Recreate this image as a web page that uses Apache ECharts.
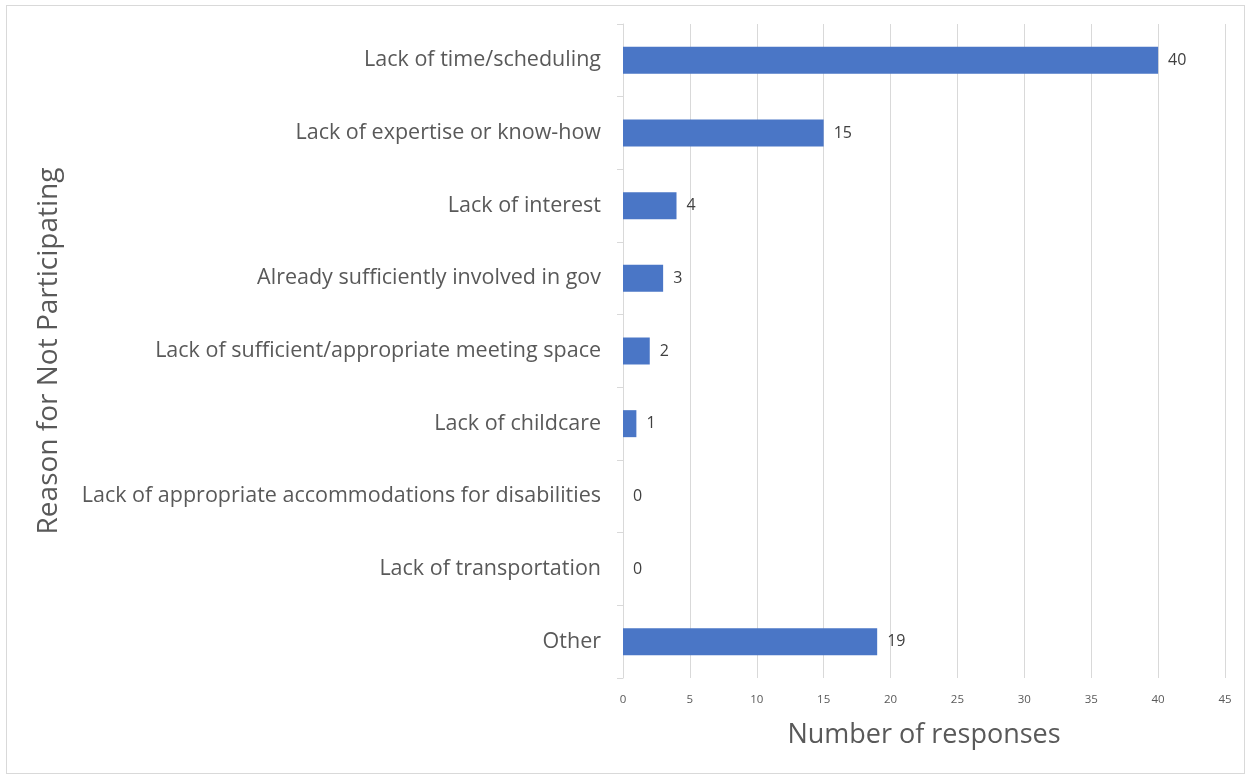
<!DOCTYPE html>
<html><head><meta charset="utf-8">
<script src="https://cdn.jsdelivr.net/npm/echarts@6/dist/echarts.min.js"></script>
<style>html,body{margin:0;padding:0;background:#fff}#wrap{position:absolute;left:6px;top:5px;width:1239px;height:769px;border:1px solid #d9d9d9;box-sizing:border-box}#c{position:absolute;left:0;top:0;width:1251px;height:776px}</style>
</head><body><div id="wrap"></div><div id="c"></div>
<script>
const categories = ["Lack of time/scheduling","Lack of expertise or know-how","Lack of interest","Already sufficiently involved in gov","Lack of sufficient/appropriate meeting space","Lack of childcare","Lack of appropriate accommodations for disabilities","Lack of transportation","Other"];
const values = [40,15,4,3,2,1,0,0,19];
const xTicks = [0,5,10,15,20,25,30,35,40,45];
const font = "'Open Sans', 'Noto Sans', sans-serif";
const chart = echarts.init(document.getElementById('c'));
chart.setOption({
  animation:false,
  grid:{left:623,right:26,top:24,bottom:98,containLabel:false},
  xAxis:{type:'value',min:xTicks[0],max:xTicks[xTicks.length-1],interval:5,
    name:'Number of responses',nameLocation:'middle',nameGap:44,
    nameTextStyle:{fontFamily:font,fontSize:27,color:'#595959'},
    axisLine:{show:false},axisTick:{show:false},
    axisLabel:{fontFamily:font,fontSize:11.5,color:'#595959',margin:16},
    splitLine:{show:true,lineStyle:{color:'#d9d9d9',width:1}}},
  yAxis:{type:'category',data:categories,inverse:true,
    name:'Reason for Not Participating',nameLocation:'middle',nameRotate:90,nameGap:560,
    nameTextStyle:{fontFamily:font,fontSize:28,color:'#595959'},
    axisLine:{show:true,lineStyle:{color:'#d9d9d9'}},
    axisTick:{show:true,length:6,lineStyle:{color:'#d9d9d9'}},
    axisLabel:{fontFamily:font,fontSize:21.5,color:'#595959',margin:22}},
  series:[{type:'bar',data:values,barWidth:27,itemStyle:{color:'#4a76c6'},
    label:{show:true,position:'right',distance:10,fontFamily:font,fontSize:16,color:'#404040'}}]
});
</script></body></html>
